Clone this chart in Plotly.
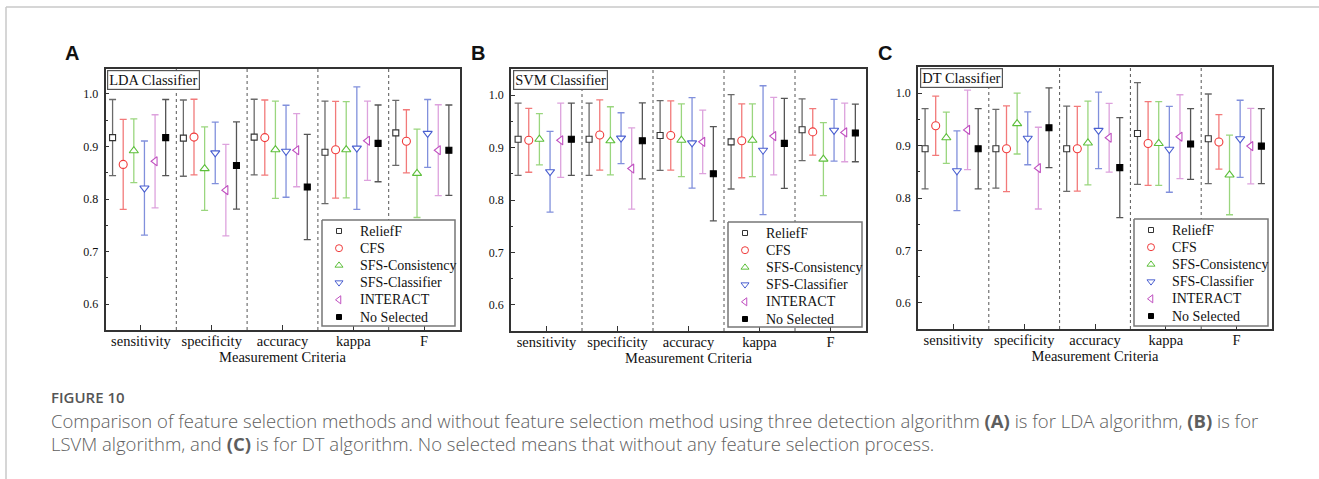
import plotly.graph_objects as go

W, H = 1319, 479

CATEGORIES = ["sensitivity", "specificity", "accuracy", "kappa", "F"]
SERIES = ["ReliefF", "CFS", "SFS-Consistency", "SFS-Classifier", "INTERACT", "No Selected"]
PANEL_TITLES = ["LDA Classifier", "SVM Classifier", "DT Classifier"]
PANEL_LETTERS = ["A", "B", "C"]
X_TITLE = "Measurement Criteria"
Y_TICKS = [0.6, 0.7, 0.8, 0.9, 1.0]

# ---- LDA classifier (panel A): mean and error half-width per criterion ----
LDA_RELIEFF = [0.917, 0.916, 0.918, 0.889, 0.926]
LDA_RELIEFF_ERR = [0.0725, 0.0725, 0.072, 0.0975, 0.062]
LDA_CFS = [0.866, 0.918, 0.917, 0.894, 0.910]
LDA_CFS_ERR = [0.0855, 0.072, 0.0715, 0.092, 0.060]
LDA_SFSCON = [0.892, 0.858, 0.894, 0.894, 0.849]
LDA_SFSCON_ERR = [0.0605, 0.0795, 0.0925, 0.0915, 0.084]
LDA_SFSCLA = [0.821, 0.888, 0.891, 0.897, 0.925]
LDA_SFSCLA_ERR = [0.0895, 0.0585, 0.0875, 0.1165, 0.0645]
LDA_INTERACT = [0.872, 0.817, 0.893, 0.911, 0.893]
LDA_INTERACT_ERR = [0.0885, 0.087, 0.0695, 0.0755, 0.0865]
LDA_NOSEL = [0.917, 0.864, 0.823, 0.906, 0.893]
LDA_NOSEL_ERR = [0.0725, 0.083, 0.100, 0.073, 0.086]

# ---- SVM classifier (panel B) ----
SVM_RELIEFF = [0.916, 0.916, 0.923, 0.911, 0.934]
SVM_RELIEFF_ERR = [0.069, 0.069, 0.0665, 0.090, 0.059]
SVM_CFS = [0.914, 0.924, 0.923, 0.913, 0.930]
SVM_CFS_ERR = [0.061, 0.067, 0.066, 0.0705, 0.0445]
SVM_SFSCON = [0.916, 0.913, 0.914, 0.914, 0.878]
SVM_SFSCON_ERR = [0.049, 0.065, 0.0695, 0.0695, 0.0695]
SVM_SFSCLA = [0.854, 0.918, 0.909, 0.895, 0.933]
SVM_SFSCLA_ERR = [0.077, 0.0485, 0.0865, 0.123, 0.059]
SVM_INTERACT = [0.914, 0.860, 0.911, 0.922, 0.929]
SVM_INTERACT_ERR = [0.071, 0.0775, 0.0605, 0.074, 0.056]
SVM_NOSEL = [0.916, 0.913, 0.850, 0.908, 0.928]
SVM_NOSEL_ERR = [0.069, 0.0725, 0.090, 0.086, 0.055]

# ---- DT classifier (panel C) ----
DT_RELIEFF = [0.894, 0.894, 0.894, 0.923, 0.913]
DT_RELIEFF_ERR = [0.0765, 0.075, 0.0815, 0.097, 0.0855]
DT_CFS = [0.938, 0.894, 0.894, 0.904, 0.907]
DT_CFS_ERR = [0.0565, 0.082, 0.081, 0.080, 0.052]
DT_SFSCON = [0.915, 0.942, 0.905, 0.904, 0.844]
DT_SFSCON_ERR = [0.049, 0.058, 0.080, 0.080, 0.076]
DT_SFSCLA = [0.852, 0.914, 0.929, 0.893, 0.913]
DT_SFSCLA_ERR = [0.076, 0.0505, 0.073, 0.082, 0.0735]
DT_INTERACT = [0.930, 0.857, 0.915, 0.917, 0.899]
DT_INTERACT_ERR = [0.076, 0.078, 0.0655, 0.080, 0.072]
DT_NOSEL = [0.894, 0.934, 0.858, 0.903, 0.899]
DT_NOSEL_ERR = [0.0765, 0.076, 0.0955, 0.0675, 0.0715]

CAPTION_HEAD = "FIGURE 10"
CAPTION_1 = ("Comparison of feature selection methods and without feature selection method using three "
             "detection algorithm <b>(A)</b> is for LDA algorithm, <b>(B)</b> is for")
CAPTION_2 = ("LSVM algorithm, and <b>(C)</b> is for DT algorithm. No selected means that without any "
             "feature selection process.")

PANELS = [
    ([LDA_RELIEFF, LDA_CFS, LDA_SFSCON, LDA_SFSCLA, LDA_INTERACT, LDA_NOSEL],
     [LDA_RELIEFF_ERR, LDA_CFS_ERR, LDA_SFSCON_ERR, LDA_SFSCLA_ERR, LDA_INTERACT_ERR, LDA_NOSEL_ERR]),
    ([SVM_RELIEFF, SVM_CFS, SVM_SFSCON, SVM_SFSCLA, SVM_INTERACT, SVM_NOSEL],
     [SVM_RELIEFF_ERR, SVM_CFS_ERR, SVM_SFSCON_ERR, SVM_SFSCLA_ERR, SVM_INTERACT_ERR, SVM_NOSEL_ERR]),
    ([DT_RELIEFF, DT_CFS, DT_SFSCON, DT_SFSCLA, DT_INTERACT, DT_NOSEL],
     [DT_RELIEFF_ERR, DT_CFS_ERR, DT_SFSCON_ERR, DT_SFSCLA_ERR, DT_INTERACT_ERR, DT_NOSEL_ERR]),
]

# ---- styles ----
STYLES = [
    dict(symbol="square", size=6, line="#333333", fill="white", err="#6a6a6a"),
    dict(symbol="circle", size=8, line="#f03c3c", fill="white", err="#f27a7a"),
    dict(symbol="triangle-up", size=8, line="#5cbf3a", fill="white", err="#9ad67e"),
    dict(symbol="triangle-down", size=8, line="#4a5fd0", fill="white", err="#8190dc"),
    dict(symbol="triangle-left", size=8, line="#c050c0", fill="white", err="#dda2dd"),
    dict(symbol="square", size=6, line="#000000", fill="#000000", err="#555555"),
]
SERIF = "Liberation Serif"
AXIS_COLOR = "#333333"

# panel boxes in pixels (x0, x1, ytop, ybottom)
PANEL_BOX = [(105.5, 459.5, 69, 330), (511, 866, 69, 331), (918, 1272, 67, 329)]
Y_RANGES = [[0.551, 1.0475], [0.55, 1.05], [0.55, 1.05]]
LEG_BOX = [(322, 220, 455, 326), (728, 222, 862, 327), (1134, 219, 1268, 326)]
LETTER_POS = [(72, 53), (478, 53), (885, 53)]


def px(x):
    return x / W


def py(y):
    return 1 - y / H


fig = go.Figure()
layout = dict(
    width=W, height=H, margin=dict(l=0, r=0, t=0, b=0),
    paper_bgcolor="white", plot_bgcolor="rgba(0,0,0,0)",
    showlegend=False, annotations=[], shapes=[],
)

for p, (means, errs) in enumerate(PANELS):
    ax = "" if p == 0 else str(p + 1)
    x0, x1, yt, yb = PANEL_BOX[p]
    layout["xaxis" + ax] = dict(
        domain=[px(x0), px(x1)], anchor="y" + ax, range=[-0.5, 4.5],
        tickmode="array", tickvals=list(range(len(CATEGORIES))), ticktext=CATEGORIES,
        ticks="inside", ticklen=5, tickcolor=AXIS_COLOR, tickwidth=1.2,
        showline=True, mirror=True, linecolor=AXIS_COLOR, linewidth=1.5,
        showgrid=False, zeroline=False, ticklabelstandoff=-3,
        tickfont=dict(family=SERIF, size=14.5, color="#111"),
        title=dict(text=X_TITLE, font=dict(family=SERIF, size=14.5, color="#111"), standoff=4),
    )
    layout["yaxis" + ax] = dict(
        domain=[py(yb), py(yt)], anchor="x" + ax, range=Y_RANGES[p],
        tickmode="array", tickvals=Y_TICKS, ticktext=[f"{v:.1f}" for v in Y_TICKS],
        ticks="inside", ticklen=4, tickcolor=AXIS_COLOR, tickwidth=1.2,
        minor=dict(tickmode="linear", tick0=0.55, dtick=0.05, ticks="inside", ticklen=2.5,
                   tickcolor=AXIS_COLOR, showgrid=False),
        showline=True, mirror=True, linecolor=AXIS_COLOR, linewidth=1.5,
        showgrid=False, zeroline=False, ticklabelstandoff=3,
        tickfont=dict(family=SERIF, size=12, color="#111"),
    )
    for s, (m, e) in enumerate(zip(means, errs)):
        st = STYLES[s]
        xs = [c + (-0.4 + 0.15 * s) for c in range(len(CATEGORIES))]
        fig.add_trace(go.Scatter(
            x=xs, y=m, mode="markers", name=SERIES[s],
            xaxis="x" + ax, yaxis="y" + ax,
            error_y=dict(type="data", array=e, visible=True, color=st["err"], thickness=1.3, width=3.5),
            marker=dict(symbol=st["symbol"], size=st["size"], color=st["fill"],
                        line=dict(color=st["line"], width=1.1)),
        ))
    # dotted separators between criteria
    for k in range(len(CATEGORIES) - 1):
        layout["shapes"].append(dict(
            type="line", xref="x" + ax, yref=("y" + ax) + " domain",
            x0=k + 0.5, x1=k + 0.5, y0=0, y1=1,
            line=dict(color="#555", width=1, dash="dot"), layer="below"))
    # classifier title box
    layout["annotations"].append(dict(
        text=PANEL_TITLES[p], xref="paper", yref="paper",
        x=px(x0 + 1.5), y=py(yt + 1.5), xanchor="left", yanchor="top", showarrow=False,
        font=dict(family=SERIF, size=14.5, color="#111"),
        bgcolor="white", bordercolor="#555", borderwidth=1.2, borderpad=1))
    # panel letter
    lx, ly = LETTER_POS[p]
    layout["annotations"].append(dict(
        text="<b>" + PANEL_LETTERS[p] + "</b>", xref="paper", yref="paper",
        x=px(lx), y=py(ly), xanchor="center", yanchor="middle", showarrow=False,
        font=dict(family="Liberation Sans", size=20, color="#111")))

# ---- legends (drawn on a helper axis in pixel units) ----
layout["xaxis4"] = dict(domain=[0, 1], range=[0, W], anchor="y4", visible=False, fixedrange=True)
layout["yaxis4"] = dict(domain=[0, 1], range=[H, 0], anchor="x4", visible=False, fixedrange=True)

for p, (bx0, by0, bx1, by1) in enumerate(LEG_BOX):
    fig.add_trace(go.Scatter(
        x=[bx0, bx1, bx1, bx0, bx0], y=[by0, by0, by1, by1, by0],
        xaxis="x4", yaxis="y4", mode="lines", fill="toself", fillcolor="white",
        line=dict(color="#777", width=1.5), hoverinfo="skip", showlegend=False))

for s, name in enumerate(SERIES):
    st = STYLES[s]
    xs = [b[0] + 17 for b in LEG_BOX]
    ys = [b[1] + 11 + 17.2 * s for b in LEG_BOX]
    fig.add_trace(go.Scatter(
        x=xs, y=ys, xaxis="x4", yaxis="y4", mode="markers", showlegend=False, hoverinfo="skip",
        marker=dict(symbol=st["symbol"], size=st["size"] - 1, color=st["fill"],
                    line=dict(color=st["line"], width=1))))
    for b in LEG_BOX:
        layout["annotations"].append(dict(
            text=name, xref="x4", yref="y4", x=b[0] + 36, y=b[1] + 11 + 17.2 * s,
            xanchor="left", yanchor="middle", showarrow=False,
            font=dict(family=SERIF, size=14, color="#111")))

# ---- page frame and caption ----
layout["shapes"].append(dict(type="line", xref="paper", yref="paper",
                             x0=px(6), x1=1, y0=py(7), y1=py(7),
                             line=dict(color="#c8c8c8", width=1.5)))
layout["shapes"].append(dict(type="line", xref="paper", yref="paper",
                             x0=px(6), x1=px(6), y0=py(7), y1=0,
                             line=dict(color="#c8c8c8", width=1.5)))
layout["annotations"].append(dict(
    text=CAPTION_HEAD, xref="paper", yref="paper", x=px(49), y=py(397),
    xanchor="left", yanchor="middle", showarrow=False,
    font=dict(family="Open Sans", size=15, color="#555", weight=600)))
layout["annotations"].append(dict(
    text=CAPTION_1, xref="paper", yref="paper", x=px(49), y=py(420),
    xanchor="left", yanchor="middle", showarrow=False,
    font=dict(family="Open Sans", size=18.5, color="#5e5e5e", weight=300)))
layout["annotations"].append(dict(
    text=CAPTION_2, xref="paper", yref="paper", x=px(49), y=py(443),
    xanchor="left", yanchor="middle", showarrow=False,
    font=dict(family="Open Sans", size=18.5, color="#5e5e5e", weight=300)))

fig.update_layout(**layout)
fig.write_html("out.html")
